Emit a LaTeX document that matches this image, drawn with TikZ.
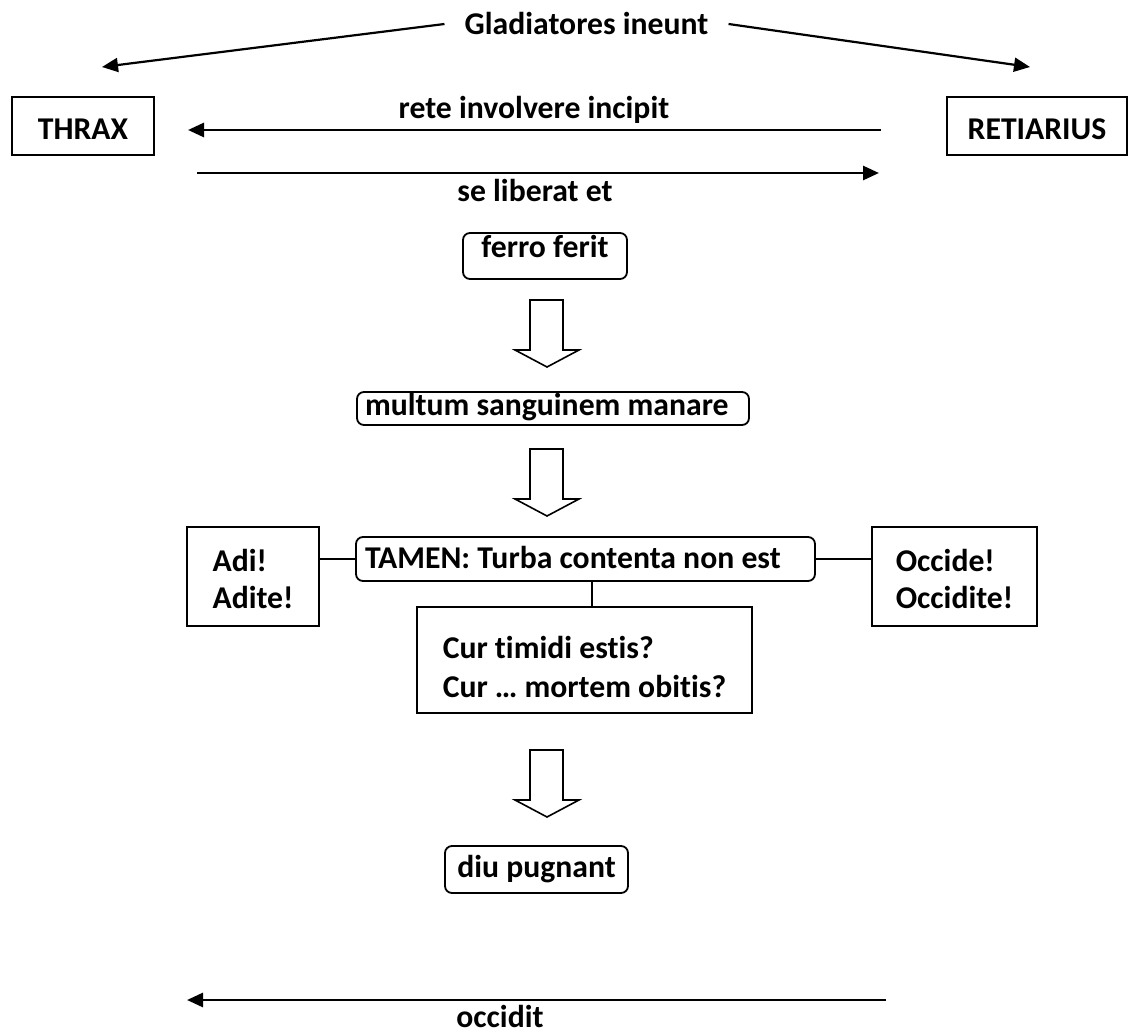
\documentclass[tikz,border=0pt]{standalone}
\usepackage{fontspec}
\setmainfont{Carlito}[Ligatures=NoCommon]
\usetikzlibrary{arrows.meta,calc}
\tikzset{
  blockarrow/.pic={\draw[line width=1.6pt, line join=miter, fill=white]
     (-17,0) -- (16,0) -- (16,50) -- (32,50) -- (0,67) -- (-32,50) -- (-17,50) -- cycle;}
}
\begin{document}
\begin{tikzpicture}[x=1pt,y=-1pt,
  every node/.style={font=\fontsize{31.7}{37}\selectfont\bfseries, inner sep=0pt},
  sqbox/.style={draw, line width=1.8pt},
  rbox/.style={draw, line width=1.8pt, rounded corners=7pt},
  conn/.style={line width=2.8pt, -{Triangle[length=16pt,width=14pt]}},
  slant/.style={line width=2.2pt, -{Triangle[length=16pt,width=14pt]}},
  link/.style={line width=1.8pt}]
\fill[white] (0,0) rectangle (1132,1035);
\useasboundingbox (0,0) rectangle (1132,1035);

% top
\node[inner xsep=20pt, anchor=base] (glad) at (586.5,35) {Gladiatores ineunt};
\coordinate (tl) at (102,67);
\coordinate (tr) at (1030,67);
\draw[slant] (glad.west) -- (tl);
\draw[slant] (glad.east) -- (tr);

\node[sqbox, minimum width=142pt, text height=43pt, text depth=15pt] (thrax) at (83,126) {THRAX};
\node[sqbox, minimum width=180pt, text height=43pt, text depth=15pt] (ret) at (1037,126) {RETIARIUS};

\coordinate (rs) at (881,130);
\coordinate (re) at (188,130);
\draw[conn] (rs) -- (re);
\node[anchor=base] (retelbl) at (534,119) {rete involvere incipit};

\coordinate (ss) at (197,173);
\coordinate (se) at (879,173);
\draw[conn] (ss) -- (se);
\node[anchor=base] (selbl) at (535,201) {se liberat et};

% middle column
\node[rbox, minimum width=164pt, text height=24pt, text depth=22pt] (ferro) at (545,256) {ferro ferit};
\pic at (547,300) {blockarrow};
\node[rbox, text width=376pt, inner xsep=8pt, align=flush left, text height=23pt, text depth=10pt] (multum) at (553,408.5) {multum sanguinem manare};
\pic at (547,449) {blockarrow};

\node[sqbox, minimum width=132pt, minimum height=99pt, align=left] (adi) at (253,576.5) {\rule{0pt}{27pt}Adi!\\Adite!};
\node[rbox, text width=441pt, inner xsep=9pt, align=flush left, text height=31pt, text depth=13pt] (tamen) at (585.5,559) {TAMEN: Turba contenta non est};
\node[sqbox, minimum width=165pt, minimum height=99pt, align=left] (occ) at (954.5,576.5) {\rule{0pt}{27pt}Occide!\\Occidite!};
\node[sqbox, minimum width=335pt, minimum height=106pt, align=left] (cur) at (584.5,660) {\rule{0pt}{36pt}Cur timidi estis?\\[2pt]Cur … mortem obitis?};

\draw[link] (tamen.west) -- (tamen.west -| adi.east);
\draw[link] (tamen.east) -- (tamen.east -| occ.west);
\coordinate (vx) at (592,0);
\draw[link] (tamen.south -| vx) -- (cur.north -| vx);

\pic at (547,750) {blockarrow};
\node[rbox, minimum width=183pt, text height=31pt, text depth=16pt] (diu) at (536.5,869.5) {diu pugnant};

% bottom
\coordinate (os) at (886,1000);
\coordinate (oe) at (187,1000);
\draw[conn] (os) -- (oe);
\node[anchor=base] (occlbl) at (500,1027) {occidit};
\end{tikzpicture}
\end{document}
